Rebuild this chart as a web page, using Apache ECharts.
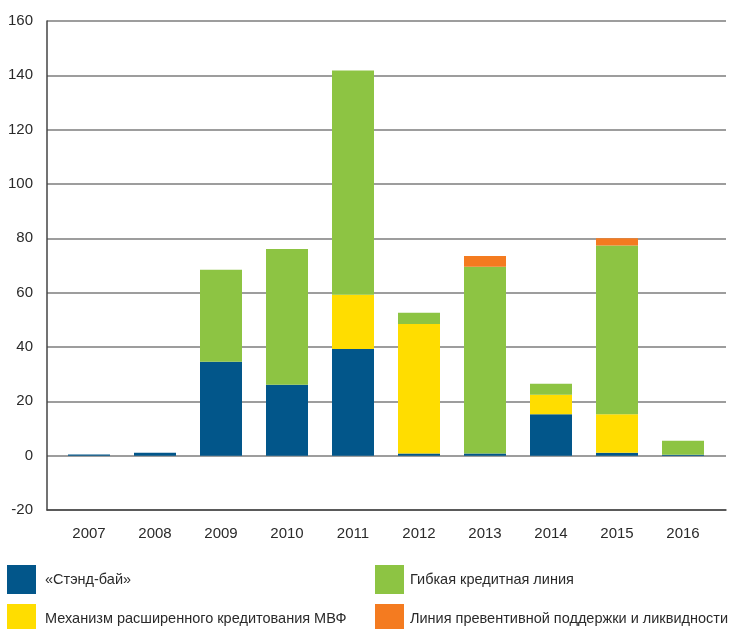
<!DOCTYPE html>
<html>
<head>
<meta charset="utf-8">
<script src="https://cdn.jsdelivr.net/npm/echarts@6/dist/echarts.min.js"></script>
<style>
html,body{margin:0;padding:0;background:#fff;}
#c{width:729px;height:629px;}
</style>
</head>
<body>
<div id="c"></div>
<script>
var categories = ['2007','2008','2009','2010','2011','2012','2013','2014','2015','2016'];
var standBy = [0.4, 1.1, 34.6, 26.1, 39.3, 0.8, 0.8, 15.2, 1.1, 0.3];
var eff = [0, 0, 0, 0, 19.9, 47.7, 0, 7.2, 14.1, 0];
var fcl = [0, 0, 33.8, 50.0, 82.6, 4.1, 68.7, 4.1, 62.2, 5.2];
var pll = [0, 0, 0, 0, 0, 0, 4.0, 0, 2.6, 0];
var names = ['«Стэнд-бай»', 'Механизм расширенного кредитования МВФ', 'Гибкая кредитная линия', 'Линия превентивной поддержки и ликвидности'];
var yMin = -20, yMax = 160, yStep = 20;

var FONT = '"Liberation Sans Narrow", "Liberation Sans", Arial, sans-serif';
var TXT = '#2a2a2a';
var colors = ['#02568a', '#ffdd00', '#8dc443', '#f47b20'];

var chart = echarts.init(document.getElementById('c'), null, {renderer: 'canvas'});
function ser(i, data) {
  return {
    name: names[i], type: 'bar', stack: 'total', data: data,
    xAxisIndex: 1, yAxisIndex: 1, barWidth: 42,
    itemStyle: {color: colors[i]}, animation: false
  };
}
function leg(i, left, top, pad) {
  return {
    data: [names[i]], orient: 'horizontal', left: left, top: top,
    itemWidth: 29, itemHeight: 29, icon: 'rect',
    textStyle: {fontFamily: FONT, fontSize: 14.5, color: TXT, padding: [0, 0, 0, pad]},
    selectedMode: false, padding: 0
  };
}
chart.setOption({
  animation: false,
  textStyle: {fontFamily: FONT},
  grid: [
    {left: 47, right: 3, top: 21, bottom: 119, containLabel: false},
    {left: 56, right: 13, top: 21, bottom: 119, containLabel: false}
  ],
  legend: [leg(0, 7, 565, 4), leg(1, 7, 604, 4), leg(2, 375, 565, 1), leg(3, 375, 604, 1)],
  xAxis: [
    {
      gridIndex: 0, type: 'category', data: [''],
      axisLine: {show: true, onZero: false, lineStyle: {color: '#444', width: 1.5}},
      axisTick: {show: false}, axisLabel: {show: false}, splitLine: {show: false}
    },
    {
      gridIndex: 1, type: 'category', data: categories,
      axisLine: {show: false}, axisTick: {show: false},
      axisLabel: {fontFamily: FONT, fontSize: 15, color: TXT, margin: 16},
      splitLine: {show: false}
    }
  ],
  yAxis: [
    {
      gridIndex: 0, type: 'value', min: yMin, max: yMax, interval: yStep,
      axisLine: {show: true, lineStyle: {color: '#444', width: 1.5}},
      axisTick: {show: false},
      axisLabel: {fontFamily: FONT, fontSize: 15, color: TXT, margin: 14},
      splitLine: {show: true, lineStyle: {color: '#9d9d9d', width: 2}}
    },
    {
      gridIndex: 1, type: 'value', min: yMin, max: yMax, interval: yStep,
      show: false, splitLine: {show: false}
    }
  ],
  series: [ser(0, standBy), ser(1, eff), ser(2, fcl), ser(3, pll)]
});
</script>
</body>
</html>
